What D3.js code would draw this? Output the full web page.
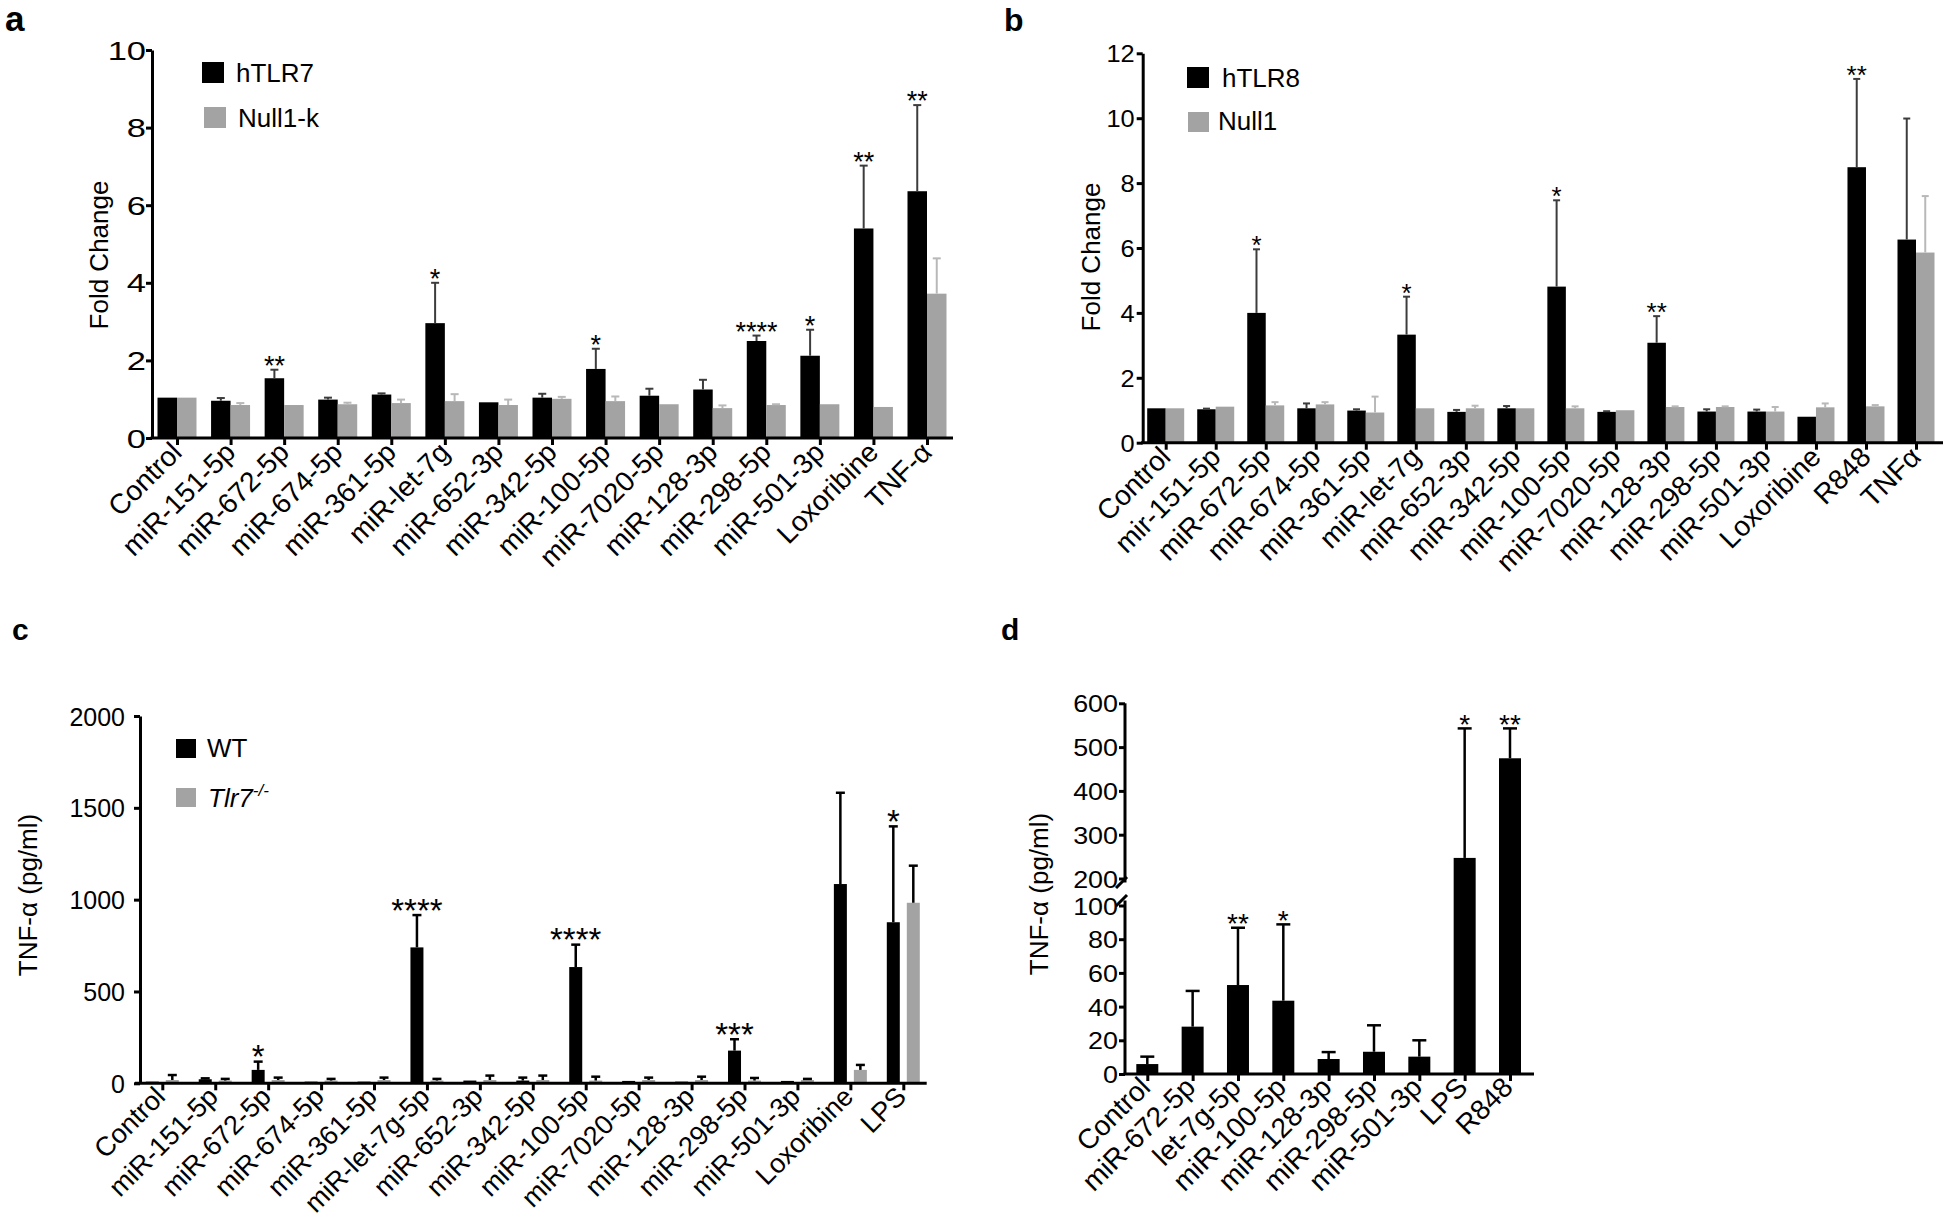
<!DOCTYPE html>
<html><head><meta charset="utf-8">
<script src="https://cdn.jsdelivr.net/npm/d3@7"></script>
<style>
body{margin:0;background:#fff;}
svg text{font-family:"Liberation Sans",Arial,Helvetica,sans-serif;fill:#000;}
</style></head><body>
<svg id="chart" width="1946" height="1220"></svg>
<script>
// ---------- DATA ----------
// Panel a
const catsA = ["Control","miR-151-5p","miR-672-5p","miR-674-5p","miR-361-5p","miR-let-7g","miR-652-3p","miR-342-5p","miR-100-5p","miR-7020-5p","miR-128-3p","miR-298-5p","miR-501-3p","Loxoribine","TNF-α"];
const seriesA = ["hTLR7","Null1-k"];
const hTLR7    = [1.04,0.96,1.54,0.99,1.12,2.96,0.92,1.04,1.78,1.09,1.25,2.50,2.12,5.40,6.36];
const hTLR7Err = [0,0.07,0.22,0.05,0.03,1.04,0,0.10,0.52,0.18,0.25,0.14,0.67,1.62,2.22];
const null1k    = [1.04,0.85,0.85,0.87,0.90,0.95,0.85,1.01,0.95,0.87,0.77,0.85,0.87,0.80,3.72];
const null1kErr = [0,0.05,0,0.04,0.09,0.18,0.14,0.05,0.12,0,0.07,0.02,0,0,0.91];
const sigA = ["","","**","","","*","","","*","","","****","*","**","**"];
const ticksA = [0,2,4,6,8,10];

// Panel b
const catsB = ["Control","mir-151-5p","miR-672-5p","miR-674-5p","miR-361-5p","miR-let-7g","miR-652-3p","miR-342-5p","miR-100-5p","miR-7020-5p","miR-128-3p","miR-298-5p","miR-501-3p","Loxoribine","R848","TNFα"];
const seriesB = ["hTLR8","Null1"];
const hTLR8    = [1.06,1.03,4.00,1.06,0.99,3.33,0.95,1.06,4.81,0.95,3.08,0.96,0.96,0.80,8.49,6.26];
const hTLR8Err = [0,0.02,1.96,0.15,0.04,1.17,0.06,0.07,2.66,0.02,0.82,0.07,0.06,0,2.72,3.73];
const null1    = [1.06,1.11,1.15,1.18,0.93,1.06,1.06,1.06,1.06,1.00,1.10,1.10,0.96,1.09,1.12,5.86];
const null1Err = [0,0,0.10,0.07,0.49,0,0.08,0,0.06,0,0.02,0.02,0.14,0.12,0.04,1.74];
const sigB = ["","","*","","","*","","","*","","**","","","","**",""];
const ticksB = [0,2,4,6,8,10,12];

// Panel c
const catsC = ["Control","miR-151-5p","miR-672-5p","miR-674-5p","miR-361-5p","miR-let-7g-5p","miR-652-3p","miR-342-5p","miR-100-5p","miR-7020-5p","miR-128-3p","miR-298-5p","miR-501-3p","Loxoribine","LPS"];
const seriesC = ["WT","Tlr7"];
const wt     = [9,22,73,9,9,740,15,15,633,13,9,178,13,1085,877];
const wtErr  = [0,5,45,0,0,176,0,16,122,0,0,62,0,497,522];
const tlr7   = [18,15,18,15,18,15,18,18,15,18,18,15,18,73,983];
const tlr7Err= [27,9,13,9,13,9,24,24,21,13,18,14,6,27,202];
const sigC = ["","","*","","","****","","","****","","","***","","","*"];
const ticksC = [0,500,1000,1500,2000];

// Panel d
const catsD = ["Control","miR-672-5p","let-7g-5p","miR-100-5p","miR-128-3p","miR-298-5p","miR-501-3p","LPS","R848"];
const tnfD    = [5.9,28.1,52.8,43.5,8.9,13.2,10.3,247,474.5];
const tnfDErr = [4.4,21.2,34.0,45.3,4.1,15.7,9.7,295.7,68.2];
const sigD = ["","","**","*","","","","*","**"];
const ticksD = [0,20,40,60,80,100,200,300,400,500,600];

// ---------- DRAWING ----------
const svg = d3.select("#chart");
const BLACK = "#000", GRAY = "#a3a3a3";

function yAxis(y, x, ticks, fs, pad, sx, keepDomain){
  const g = svg.append("g").attr("transform",`translate(${x},0)`)
    .call(d3.axisLeft(y).tickValues(ticks).tickSize(6).tickSizeOuter(0).tickFormat(d3.format("d")));
  g.attr("font-family",null).attr("font-size",null);
  g.select(".domain").attr("stroke","#000").attr("stroke-width",3);
  if(!keepDomain) g.select(".domain").remove();
  g.selectAll(".tick line").attr("stroke","#000").attr("stroke-width",3);
  g.selectAll(".tick text").attr("x",0).attr("dy","0.36em").attr("font-size",fs)
    .attr("transform",`translate(${-6-pad},0) scale(${sx},1)`);
  return g;
}
function xAxis(x, y0, x0, x1, fs, dx, dy){
  svg.append("line").attr("x1",x0).attr("x2",x1).attr("y1",y0).attr("y2",y0)
    .attr("stroke","#000").attr("stroke-width",3);
  const g = svg.append("g").attr("transform",`translate(0,${y0})`)
    .call(d3.axisBottom(x).tickSize(7).tickSizeOuter(0));
  g.attr("font-family",null).attr("font-size",null);
  g.select(".domain").remove();
  g.selectAll(".tick line").attr("stroke","#000").attr("stroke-width",3);
  g.selectAll(".tick text").attr("y",0).attr("dy",0).attr("text-anchor","end").attr("font-size",fs)
    .attr("transform",`translate(${dx},${dy}) rotate(-45)`);
}
function bars(x, y, cats, vals, off, w, fill){
  svg.append("g").selectAll("rect").data(cats.map((c,i)=>({c,v:vals[i]}))).join("rect")
    .attr("x",d=>x(d.c)+off).attr("width",w)
    .attr("y",d=>y(d.v)).attr("height",d=>y(0)-y(d.v)).attr("fill",fill);
}
function errs(x, y, cats, vals, e, cx, color, capW, sw){
  const data = cats.map((c,i)=>({c,v:vals[i],e:e[i]})).filter(d=>d.e>0);
  const g = svg.append("g").attr("stroke",color).attr("stroke-width",sw);
  g.selectAll("line.v").data(data).join("line").attr("class","v")
    .attr("x1",d=>x(d.c)+cx).attr("x2",d=>x(d.c)+cx)
    .attr("y1",d=>y(d.v)).attr("y2",d=>y(d.v+d.e));
  g.selectAll("line.h").data(data).join("line").attr("class","h")
    .attr("x1",d=>x(d.c)+cx-capW/2).attr("x2",d=>x(d.c)+cx+capW/2)
    .attr("y1",d=>y(d.v+d.e)).attr("y2",d=>y(d.v+d.e));
}
function sigs(x, y, cats, vals, e, sig, cx, fs){
  const data = cats.map((c,i)=>({c,v:vals[i],e:e[i],s:sig[i]})).filter(d=>d.s);
  svg.append("g").selectAll("text").data(data).join("text")
    .attr("x",d=>x(d.c)+cx).attr("y",d=>y(d.v+d.e)+fs*0.2)
    .attr("text-anchor","middle").attr("font-size",fs).text(d=>d.s);
}
function yTitle(t, x, y){
  svg.append("text").attr("transform",`translate(${x},${y}) rotate(-90)`)
    .attr("text-anchor","middle").attr("font-size",26).text(t);
}
function panelLabel(t, x, y, fs){
  svg.append("text").attr("x",x).attr("y",y).attr("font-size",fs).attr("font-weight","bold").text(t);
}
function legendItem(color, sx, sy, sw, sh, tx, ty, label, italic){
  svg.append("rect").attr("x",sx).attr("y",sy).attr("width",sw).attr("height",sh).attr("fill",color);
  return svg.append("text").attr("x",tx).attr("y",ty).attr("font-size",26)
    .attr("font-style",italic?"italic":null).text(label);
}

const XFS = 28;
// ----- Panel a -----
{
  const y = d3.scaleLinear().domain([0,10]).range([438,50]);
  const x = d3.scalePoint().domain(catsA).range([177,927]);
  bars(x,y,catsA,hTLR7,-19.5,19.5,BLACK);
  bars(x,y,catsA,null1k,0,19.5,GRAY);
  errs(x,y,catsA,hTLR7,hTLR7Err,-9.75,"#3c3c3c",8,2);
  errs(x,y,catsA,null1k,null1kErr,9.75,"#b8b8b8",8,2);
  sigs(x,y,catsA,hTLR7,hTLR7Err,sigA,-9.75,27);
  yAxis(y,152,ticksA,25,0,1.38,true);
  xAxis(x,438,150.5,953,XFS,6,16);
  yTitle("Fold Change",108,255);
  legendItem(BLACK,202,62,22,21,236,82,seriesA[0]);
  legendItem(GRAY,204,107,22,21,238,127,seriesA[1]);
  panelLabel("a",5,31,35);
}
// ----- Panel b -----
{
  const y = d3.scaleLinear().domain([0,12]).range([442.7,53.3]);
  const x = d3.scalePoint().domain(catsB).range([1165.7,1916]);
  bars(x,y,catsB,hTLR8,-18.5,18.5,BLACK);
  bars(x,y,catsB,null1,0,18.5,GRAY);
  errs(x,y,catsB,hTLR8,hTLR8Err,-9.25,"#3c3c3c",7,2);
  errs(x,y,catsB,null1,null1Err,9.25,"#b8b8b8",7,2);
  sigs(x,y,catsB,hTLR8,hTLR8Err,sigB,-9.25,26);
  yAxis(y,1142.7,ticksB,23.5,2,1.08,true);
  xAxis(x,442.7,1141,1943,XFS,6,16);
  yTitle("Fold Change",1100,257);
  legendItem(BLACK,1187,67,22,21,1222,87,seriesB[0]);
  legendItem(GRAY,1188,112,21,20,1218,130,seriesB[1]);
  panelLabel("b",1004,31,32);
}
// ----- Panel c -----
{
  const y = d3.scaleLinear().domain([0,2000]).range([1083.3,716]);
  const x = d3.scalePoint().domain(catsC).range([162.3,903.3]);
  bars(x,y,catsC,wt,-16.5,13,BLACK);
  bars(x,y,catsC,tlr7,3.5,13,GRAY);
  errs(x,y,catsC,wt,wtErr,-10,"#000",9,2.5);
  errs(x,y,catsC,tlr7,tlr7Err,10,"#000",9,2.5);
  sigs(x,y,catsC,wt,wtErr,sigC,-10,33);
  yAxis(y,140,ticksC,25,9,1,true);
  xAxis(x,1083.3,135,926.7,27,4,15);
  yTitle("TNF-α (pg/ml)",37,895);
  legendItem(BLACK,176,739,20,19,207,757,seriesC[0]);
  const t = legendItem(GRAY,176,788,20,19,208,807,seriesC[1],true);
  t.append("tspan").attr("font-size",17).attr("dy",-11).text("-/-");
  panelLabel("c",12,640,30);
}
// ----- Panel d (broken axis) -----
{
  const y = d3.scaleLinear().domain([0,100,200,600]).range([1074,905.5,878.5,703.3]);
  const x = d3.scalePoint().domain(catsD).range([1147.3,1510]);
  bars(x,y,catsD,tnfD,-11,22,BLACK);
  errs(x,y,catsD,tnfD,tnfDErr,0,"#000",14,2.5);
  sigs(x,y,catsD,tnfD,tnfDErr,sigD,0,28);
  yAxis(y,1125,ticksD,24,1,1.12,false);
  const ax = 1125;
  const seg = [[y(600),y(200)+4],[y(100)-5,y(0)]];
  svg.append("g").selectAll("line").data(seg).join("line")
    .attr("x1",ax).attr("x2",ax).attr("y1",d=>d[0]).attr("y2",d=>d[1])
    .attr("stroke","#000").attr("stroke-width",3);
  const breaks = [y(200)+4, y(100)-5];
  svg.append("g").selectAll("line").data(breaks).join("line")
    .attr("x1",ax-9).attr("x2",ax+2).attr("y1",d=>d+5.5).attr("y2",d=>d-5.5)
    .attr("stroke","#000").attr("stroke-width",3);
  xAxis(x,1074,1123.5,1534,XFS,4,15);
  yTitle("TNF-α (pg/ml)",1048,894);
  panelLabel("d",1001,640,30);
}
</script>
</body></html>
